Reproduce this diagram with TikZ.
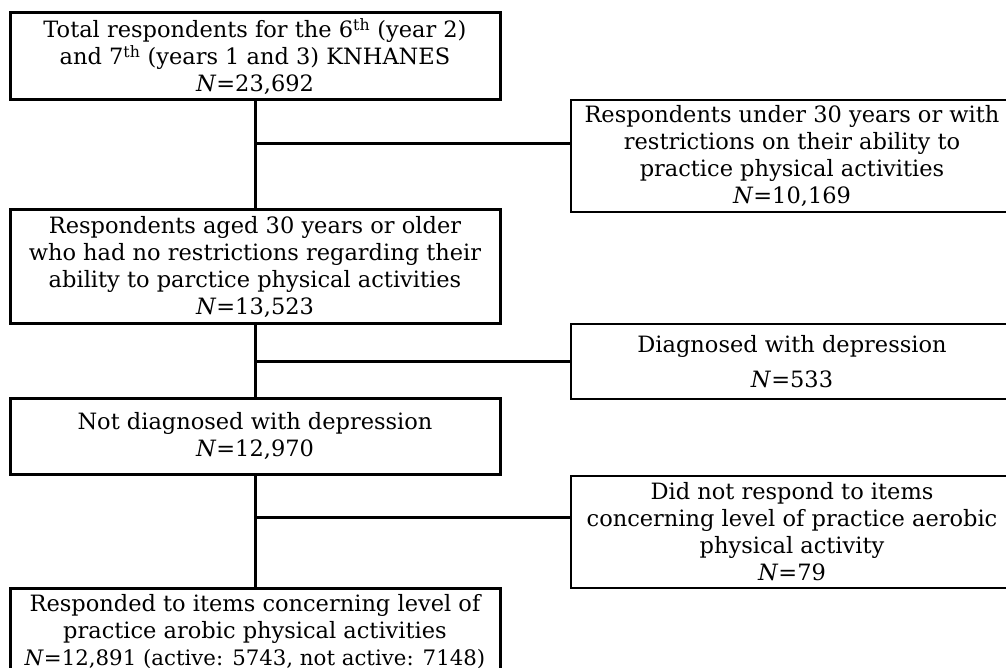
\documentclass[tikz,border=0pt]{standalone}
\usepackage{fontspec}
\setmainfont{DejaVu Serif}
\begin{document}
\begin{tikzpicture}[x=1pt,y=-1pt,
    mainbox/.style={draw,line width=3pt,minimum width=490,align=center,inner sep=0pt,font=\fontsize{22.5}{27}\selectfont},
    sidebox/.style={draw,line width=2pt,minimum width=442,align=center,inner sep=0pt,font=\fontsize{22.5}{27}\selectfont},
    link/.style={line width=3pt}]
    \useasboundingbox (0,0) rectangle (1006,668);
    \clip (0,0) rectangle (1006,668);
    \node[mainbox,minimum height=87] (total) at (255,56.5) {Total respondents for the 6\textsuperscript{th} (year 2)\\and 7\textsuperscript{th} (years 1 and 3) KNHANES\\\textit{N}=23,692};
    \node[sidebox,minimum height=112] (under) at (792,156) {Respondents under 30 years or with\\restrictions on their ability to\\practice physical activities\\\textit{N}=10,169};
    \node[mainbox,minimum height=113] (aged) at (255,266.5) {Respondents aged 30 years or older\\who had no restrictions regarding their\\ability to parctice physical activities\\\textit{N}=13,523};
    \node[sidebox,minimum height=75] (depr) at (792,361.5) {Diagnosed with depression\\[8pt]\textit{N}=533};
    \node[mainbox,minimum height=76] (nodepr) at (255,436) {Not diagnosed with depression\\\textit{N}=12,970};
    \node[sidebox,minimum height=112] (noresp) at (792,532) {Did not respond to items\\concerning level of practice aerobic\\physical activity\\\textit{N}=79};
    \node[mainbox,minimum height=87] (resp) at (255,631.5) {Responded to items concerning level of\\practice arobic physical activities\\{\fontsize{21.3}{27}\selectfont\textit{N}=12,891 (active: 5743, not active: 7148)}};
    % trunk and branches
    \draw[link] (total.south) -- (aged.north);
    \draw[link] (aged.south) -- (nodepr.north);
    \draw[link] (nodepr.south) -- (resp.north);
    \coordinate (b1) at (255,144);
    \coordinate (b2) at (255,361);
    \coordinate (b3) at (255,517);
    \draw[link] (b1) -- (b1 -| under.west);
    \draw[link] (b2) -- (b2 -| depr.west);
    \draw[link] (b3) -- (b3 -| noresp.west);
\end{tikzpicture}
\end{document}
